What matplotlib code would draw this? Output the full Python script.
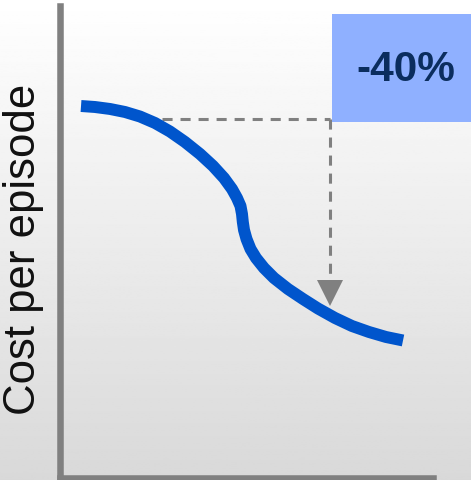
import matplotlib.pyplot as plt
import numpy as np
from matplotlib.patches import Rectangle

# Cost curve over time (arbitrary units)
time = [0.576, 0.950, 1.352, 1.754, 2.155, 2.557, 2.958, 3.360, 3.762, 4.110,
        4.404, 4.618, 4.752, 4.846, 4.886, 4.908, 4.940, 5.007, 5.114, 5.261,
        5.475, 5.743, 6.118, 6.519, 6.921, 7.376, 7.831, 8.286, 8.742, 9.197]
cost = [78.79, 78.58, 78.16, 77.52, 76.56, 75.19, 73.38, 71.16, 68.61, 66.07,
        63.52, 61.19, 59.28, 57.58, 55.89, 54.19, 52.49, 50.58, 48.46, 46.55,
        44.43, 42.31, 39.98, 37.86, 35.84, 33.83, 32.13, 30.86, 29.80, 29.06]

# Reduction marker: from the reference level down to the new level
ref_start, ref_x = 2.74, 7.24
ref_level, new_level = 76.0, 36.4
reduction_label = '-40%'
ylabel = 'Cost per episode'

fig = plt.figure(figsize=(4.71, 4.81), dpi=100)

# Background: white at the top fading to light grey
bg = fig.add_axes([0, 0, 1, 1], zorder=-1)
grad = np.linspace(1.0, 0.85, 256).reshape(-1, 1)
bg.imshow(grad, cmap='gray', vmin=0, vmax=1, aspect='auto', extent=[0, 1, 0, 1])
bg.axis('off')

ax = fig.add_axes([59.5 / 471, 2.5 / 481, (433 - 59.5) / 471, (478.5 - 7) / 481])
ax.set_facecolor('none')
ax.set_xlim(0, 10)
ax.set_ylim(0, 100)
for side in ['top', 'right']:
    ax.spines[side].set_visible(False)
for side in ['left', 'bottom']:
    ax.spines[side].set_color('#808080')
    ax.spines[side].set_linewidth(4.7)
ax.set_xticks([])
ax.set_yticks([])

# Dashed guide with arrow head
dash = (0, (3.3, 2.6))
ax.plot([ref_start, ref_x], [ref_level, ref_level], color='#808080', lw=2.2,
        linestyle=dash, zorder=2)
ax.plot([ref_x, ref_x], [ref_level, new_level + 5.6], color='#808080', lw=2.2,
        linestyle=dash, zorder=2)
ax.plot([ref_x], [new_level + 2.75], marker='v', markersize=19.2,
        color='#808080', markeredgewidth=0, zorder=2)

# Cost curve
ax.plot(time, cost, color='#0055cc', lw=8.6, solid_capstyle='butt',
        solid_joinstyle='round', zorder=3)

# Highlight box with the reduction
ax.add_patch(Rectangle((7.29, 75.5), 3.8, 22.8, facecolor='#8fb0ff',
                       edgecolor='none', clip_on=False, zorder=4))
ax.text(9.26, 86.6, reduction_label, fontsize=30.5, fontweight='bold',
        family='Liberation Sans', color='#0b2d5e', ha='center', va='center',
        zorder=5)

fig.text(24 / 471, (481 - 249) / 481, ylabel, rotation=90, fontsize=31.5,
         family='Liberation Sans', color='#111111', ha='center', va='center')

fig.savefig('out.png', dpi=100)
